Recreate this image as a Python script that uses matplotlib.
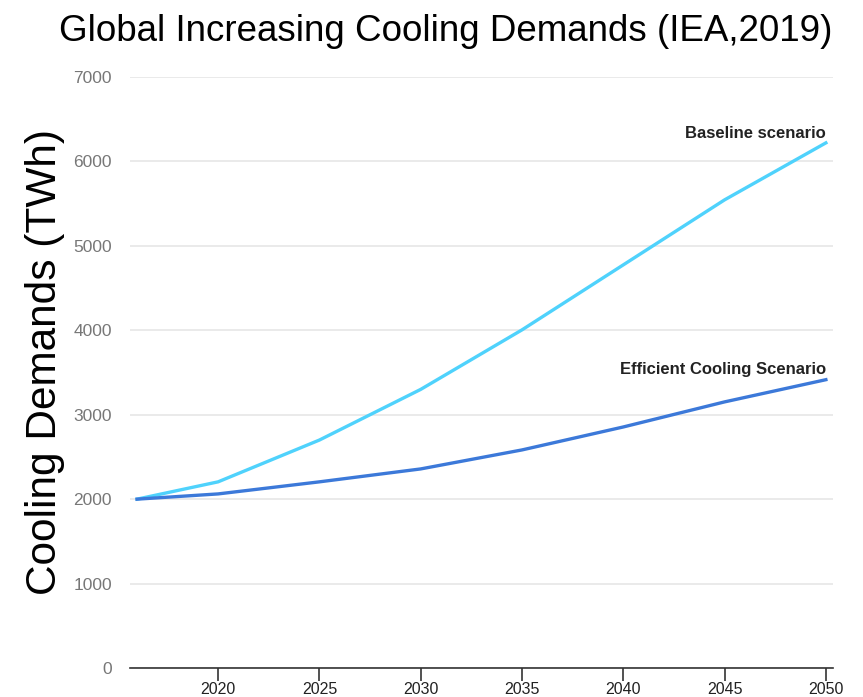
import matplotlib.pyplot as plt

plt.rcParams['font.family'] = ['Liberation Sans', 'DejaVu Sans']

years = [2016, 2020, 2025, 2030, 2035, 2040, 2045, 2050]
baseline = [2000, 2205, 2700, 3300, 4005, 4775, 5545, 6220]
efficient = [2000, 2062, 2205, 2358, 2583, 2855, 3152, 3415]
x_ticks = [2020, 2025, 2030, 2035, 2040, 2045, 2050]
y_ticks = [0, 1000, 2000, 3000, 4000, 5000, 6000, 7000]

fig = plt.figure(figsize=(8.63, 6.97), dpi=100)
ax = fig.add_axes([0.1506, 0.0416, 0.8146, 0.8479])

ax.plot(years, baseline, color='#4fd2fc', lw=2.4, solid_joinstyle='round')
ax.plot(years, efficient, color='#3c79d9', lw=2.4, solid_joinstyle='round')

ax.text(years[-1], baseline[-1] + 25, 'Baseline scenario', ha='right', va='bottom',
        fontsize=12, fontweight='bold', color='#222222')
ax.text(years[-1], efficient[-1] + 30, 'Efficient Cooling Scenario', ha='right', va='bottom',
        fontsize=12, fontweight='bold', color='#222222')

ax.set_xlim(2015.65, 2050.35)
ax.set_ylim(0, 7000)
ax.set_xticks(x_ticks)
ax.set_yticks(y_ticks)
ax.grid(axis='y', color='#e6e6e6', lw=1.2)
ax.set_axisbelow(True)
for side in ['top', 'right', 'left']:
    ax.spines[side].set_visible(False)
ax.spines['bottom'].set_color('#333333')
ax.spines['bottom'].set_linewidth(1.2)
ax.tick_params(axis='x', length=9, width=1.2, color='#333333', labelsize=11.5,
               labelcolor='#222222', pad=1)
ax.tick_params(axis='y', length=0, labelsize=12.5, labelcolor='#777777', pad=13)

ax.set_ylabel('Cooling Demands (TWh)', fontsize=30.5)
ax.yaxis.set_label_coords(-0.092, 0.518)
fig.text(0.516, 0.955, 'Global Increasing Cooling Demands (IEA,2019)',
         ha='center', va='center', fontsize=26.5)

fig.savefig('out.png', dpi=100)
